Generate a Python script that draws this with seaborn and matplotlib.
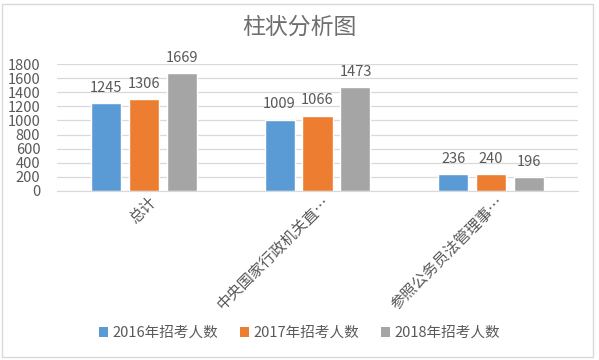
import pandas as pd
import matplotlib.pyplot as plt
import matplotlib.transforms as mtransforms
import seaborn as sns
from matplotlib.patches import Rectangle, Patch

categories = ['总计', '中央国家行政机关直…', '参照公务员法管理事…']
series = ['2016年招考人数', '2017年招考人数', '2018年招考人数']
v2016 = [1245, 1009, 236]
v2017 = [1306, 1066, 240]
v2018 = [1669, 1473, 196]
colors = ['#5B9BD5', '#ED7D31', '#A5A5A5']
yticks = [0, 200, 400, 600, 800, 1000, 1200, 1400, 1600, 1800]

txt = '#595959'

rows = []
for s, vals in zip(series, [v2016, v2017, v2018]):
    for c, v in zip(categories, vals):
        rows.append({'cat': c, 'series': s, 'value': v})
df = pd.DataFrame(rows)

sns.set_style('white')
plt.rcParams['font.family'] = ['Noto Sans CJK SC', 'DejaVu Sans']

fig = plt.figure(figsize=(5.99, 3.6), dpi=100)
ax = fig.add_axes([57 / 599, 1 - 191 / 360, 521 / 599, 127 / 360])

sns.barplot(data=df, x='cat', y='value', hue='series', palette=colors,
            width=0.656, gap=0.21, ax=ax, legend=False, saturation=1)

for cont in ax.containers:
    ax.bar_label(cont, padding=6, fontsize=10.5, color=txt)

ax.set_ylim(0, 1800)
ax.set_yticks(yticks)
ax.set_xlim(-0.5, 2.5)
ax.yaxis.grid(True, color='#D9D9D9', linewidth=0.9)
ax.set_axisbelow(True)
for sp in ['left', 'right', 'top']:
    ax.spines[sp].set_visible(False)
ax.spines['bottom'].set_color('#D9D9D9')
ax.set_xlabel('')
ax.set_ylabel('')
ax.tick_params(axis='y', length=0, pad=12, labelsize=10.5, labelcolor=txt)
ax.tick_params(axis='x', length=0, pad=6, labelsize=11, labelcolor=txt)
ax.set_xticks(range(len(categories)))
ax.set_xticklabels(categories, rotation=45, ha='right', va='center',
                   rotation_mode='anchor')
shift = mtransforms.ScaledTranslation(10 / 100, 0, fig.dpi_scale_trans)
for lab in ax.get_xticklabels():
    lab.set_transform(lab.get_transform() + shift)

fig.text(0.5, 1 - 27 / 360, '柱状分析图', ha='center', va='center',
         fontsize=16.5, color='#6E6E6E', fontweight='light')

handles = [Patch(facecolor=c, edgecolor='none') for c in colors]
fig.legend(handles, series, loc='center', bbox_to_anchor=(0.5, 1 - 333 / 360),
           ncol=3, frameon=False, fontsize=10.5, labelcolor=txt,
           handlelength=0.65, handleheight=0.65, handletextpad=0.3,
           columnspacing=1.45)

fig.patches.append(Rectangle((2 / 599, 3 / 360), 591 / 599, 353 / 360,
                             transform=fig.transFigure, fill=False,
                             edgecolor='#D9D9D9', linewidth=1))

fig.savefig('out.png', dpi=100)
